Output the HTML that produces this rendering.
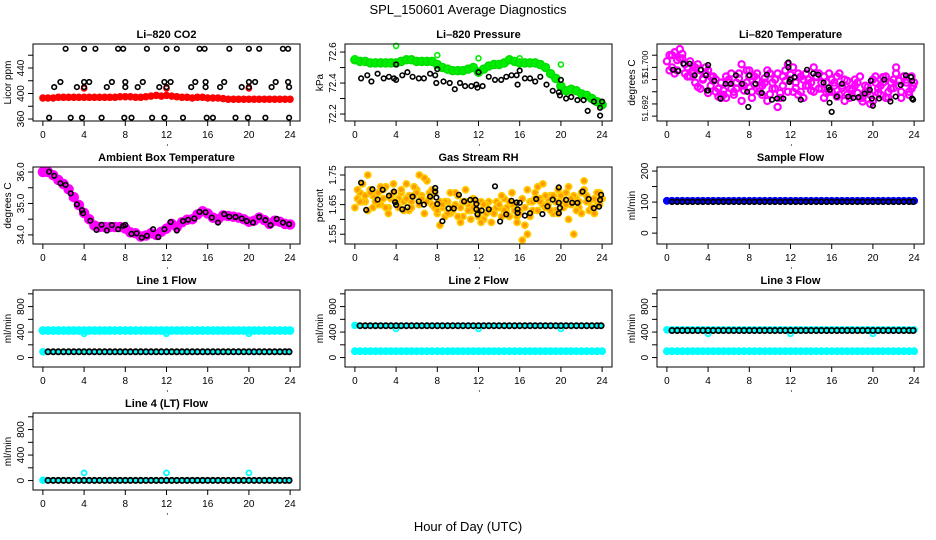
<!DOCTYPE html>
<html><head><meta charset="utf-8"><style>
html,body{margin:0;padding:0;background:#fff;}
svg{display:block;font-family:"Liberation Sans",sans-serif;}
</style></head><body>
<svg id="chart" width="936" height="540" viewBox="0 0 936 540" xmlns="http://www.w3.org/2000/svg">
<text x="468" y="14" text-anchor="middle" font-size="13">SPL_150601  Average Diagnostics</text>
<text x="468" y="531" text-anchor="middle" font-size="13">Hour of Day (UTC)</text>
</svg>
<script>
const xTicks = [0,4,8,12,16,20,24];
const halfHours = [0,0.5,1,1.5,2,2.5,3,3.5,4,4.5,5,5.5,6,6.5,7,7.5,8,8.5,9,9.5,10,10.5,11,11.5,12,12.5,13,13.5,14,14.5,15,15.5,16,16.5,17,17.5,18,18.5,19,19.5,20,20.5,21,21.5,22,22.5,23,23.5,24];
const quarterHours = [0.25,0.75,1.25,1.75,2.25,2.75,3.25,3.75,4.25,4.75,5.25,5.75,6.25,6.75,7.25,7.75,8.25,8.75,9.25,9.75,10.25,10.75,11.25,11.75,12.25,12.75,13.25,13.75,14.25,14.75,15.25,15.75,16.25,16.75,17.25,17.75,18.25,18.75,19.25,19.75,20.25,20.75,21.25,21.75,22.25,22.75,23.25,23.75];
const blackTimes = [0.5,1,1.5,2,2.5,3,3.5,4,4.5,5,5.5,6,6.5,7,7.5,8,8.5,9,9.5,10,10.5,11,11.5,12,12.5,13,13.5,14,14.5,15,15.5,16,16.5,17,17.5,18,18.5,19,19.5,20,20.5,21,21.5,22,22.5,23,23.5,23.9];
const spikeTimes = [4,12,20];

// CO2
const co2RedVals = [393,393,393,394,394,394,394,394,394,394,394,394,394,394,394,395,395,395,394,394,395,396,397,396,397,396,395,394,394,393,394,394,393,393,393,392,391,391,391,391,391,391,391,391,391,391,391,391,391];
const co2RedSpikeVals = [408,408,408];
const co2BlackTimes = [2.2,4,5.1,7.3,7.8,10.1,12,13,15.2,15.7,18.1,20,21,23.3,23.8, 1.7,4,4.5,6.7,8,9.7,11.8,12.4,14.8,15.8,17.6,20,20.6,22.6,23.8, 1.1,3.3,4,6.2,8,9.2,11.3,12,14.4,15.8,17.2,19.3,20,22.2,23.9, 0.6,2.7,3.8,5.7,7.9,8.6,10.6,11.8,13.6,15.9,16.5,18.7,19.9,21.6,23.9];
const co2BlackVals = [470,470,470,470,470,470,470,470,470,470,470,470,470,470,470, 418,418,418,418,418,418,418,418,418,418,418,418,418,418,418, 410,410,410,410,410,410,410,410,410,410,410,410,410,410,410, 362,362,362,362,362,362,362,362,362,362,362,362,362,362,362];

// Pressure
const presGreenVals = [72.55,72.54,72.54,72.53,72.53,72.53,72.53,72.53,72.53,72.54,72.55,72.55,72.54,72.54,72.54,72.54,72.52,72.50,72.49,72.48,72.48,72.48,72.49,72.50,72.47,72.49,72.51,72.52,72.52,72.53,72.55,72.54,72.53,72.53,72.53,72.53,72.52,72.50,72.46,72.43,72.38,72.35,72.36,72.35,72.33,72.32,72.30,72.28,72.26];
const presGreenSpikeTimes = [0,4,8,12,16,20];
const presGreenSpikeVals = [72.56,72.64,72.58,72.56,72.56,72.52];
const presBlackTimes = [0.6,1.2,1.6,2.2,2.8,3.3,3.8,4,4,4.6,5.1,5.6,6.2,6.7,7.3,7.8,7.9,8,8.6,9.2,9.7,10.2,10.7,11.3,11.8,11.9,12,12.4,13,13.6,14.2,14.7,15.2,15.7,15.8,16,16.5,17,17.5,18,18.6,19.2,19.8,19.9,20,20.5,21,21.6,22.2,22.6,23.2,23.8,23.8,24];
const presBlackVals = [72.43,72.45,72.41,72.46,72.43,72.44,72.43,72.52,72.42,72.45,72.47,72.44,72.43,72.43,72.46,72.45,72.40,72.49,72.41,72.40,72.36,72.40,72.38,72.38,72.39,72.37,72.47,72.38,72.44,72.42,72.42,72.44,72.45,72.45,72.39,72.48,72.43,72.43,72.41,72.44,72.39,72.35,72.34,72.32,72.42,72.30,72.31,72.29,72.29,72.22,72.28,72.24,72.19,72.28];

// Li-820 temperature
const tempMagA = [51.7010,51.7020,51.6995,51.7015,51.7000,51.6990,51.7005,51.6980,51.6995,51.6985,51.6965,51.6955,51.6975,51.6960,51.6990,51.6970,51.6995,51.6985,51.6960,51.6975,51.6990,51.6965,51.6950,51.6995,51.6980,51.6975,51.6960,51.6990,51.6975,51.6985,51.6965,51.6975,51.6960,51.6985,51.6970,51.6955,51.6965,51.6975,51.6950,51.6960,51.6945,51.6965,51.6975,51.6960,51.6980,51.6970,51.6985,51.6960,51.6975];
const tempMagB = [51.6995,51.7025,51.7015,51.6990,51.7010,51.6975,51.6995,51.7000,51.6970,51.6980,51.6950,51.6985,51.6965,51.6975,51.6945,51.6995,51.6960,51.6980,51.6955,51.6995,51.6975,51.6935,51.6985,51.6960,51.7000,51.6955,51.6980,51.6970,51.6960,51.6990,51.6950,51.6990,51.6970,51.6955,51.6980,51.6950,51.6970,51.6985,51.6960,51.6940,51.6975,51.6955,51.6985,51.6965,51.6990,51.6950,51.6980,51.6965];
const tempMagC = [51.7020,51.6990,51.7030,51.7005,51.6985,51.7000,51.6965,51.6990,51.6985,51.6960,51.6975,51.6950,51.6990,51.6965,51.7005,51.6975,51.6950,51.6990,51.6970,51.6945,51.6965,51.6990,51.6970,51.7005,51.6960,51.6990,51.6950,51.6980,51.7000,51.6965,51.6985,51.6960,51.6975,51.6990,51.6945,51.6965,51.6980,51.6950,51.6970,51.6955,51.6985,51.6970,51.6950,51.6975,51.7000,51.6960,51.6975,51.6985];
const tempMagD = [51.7000,51.7012,51.7022,51.6985,51.6995,51.6968,51.6982,51.6958,51.6978,51.6952,51.6962,51.6980,51.6955,51.6982,51.6962,51.6985,51.6972,51.6966,51.6982,51.6956,51.6980,51.6958,51.6978,51.6988,51.6966,51.6985,51.6970,51.6962,51.6984,51.6975,51.6958,51.6980,51.6952,51.6966,51.6978,51.6962,51.6958,51.6944,51.6968,51.6980,51.6958,51.6984,51.6950,51.6966,51.6978,51.6985,51.6955,51.6970];
const tempBlackTimes = [0.6,1.1,1.6,2.2,2.7,3.3,3.8,3.9,4,4,4.6,5.2,5.7,6.2,6.7,7.3,7.8,7.9,8,8.6,9.2,9.7,10.2,10.7,11.3,11.8,11.8,11.9,12,12.4,13,13.6,14.2,14.7,15.2,15.7,15.8,15.8,16,16.5,17,17.6,18.1,18.6,19.2,19.7,19.8,19.9,20,20.6,21.1,21.7,22.2,22.7,23.2,23.7,23.8,23.8,23.9];
const tempBlackVals = [51.6996,51.6994,51.7006,51.7006,51.6987,51.6996,51.6987,51.6962,51.6962,51.7004,51.6978,51.6949,51.6973,51.6973,51.6987,51.6973,51.6960,51.6935,51.6987,51.6973,51.6958,51.6988,51.6947,51.6949,51.6949,51.7008,51.7000,51.6976,51.6980,51.6984,51.6947,51.6996,51.6990,51.6988,51.6975,51.6967,51.6963,51.6942,51.6927,51.6952,51.6973,51.6952,51.6950,51.6951,51.6957,51.6963,51.6978,51.6949,51.6937,51.6949,51.6980,51.6944,51.6952,51.6971,51.6987,51.6984,51.6978,51.6949,51.6947];

// Ambient box temperature
const ambMagVals = [36.0,36.0,35.9,35.75,35.62,35.45,35.2,34.95,34.7,34.5,34.3,34.25,34.25,34.25,34.25,34.25,34.2,34.08,34.05,33.95,33.98,34.05,34.0,34.1,34.2,34.35,34.25,34.4,34.48,34.5,34.65,34.75,34.68,34.55,34.5,34.62,34.6,34.58,34.55,34.5,34.42,34.45,34.55,34.47,34.35,34.45,34.42,34.35,34.33];
const ambBlackTimes = [0.6,1.1,1.7,2.2,2.7,3.3,3.8,3.9,4.6,5.2,5.7,6.2,6.7,7.3,7.8,8,8.6,9.1,9.6,10.1,10.7,11.2,11.8,12.4,13,13.6,14.1,14.7,15.2,15.8,16.4,17,17.6,18.1,18.7,19.3,19.8,20.4,21,21.6,22.1,22.7,23.3,23.9];
const ambBlackVals = [36.01,35.88,35.64,35.59,35.32,34.97,34.79,34.69,34.45,34.16,34.32,34.14,34.31,34.18,34.29,34.32,34.03,34.05,33.91,33.97,34.18,33.93,34.18,34.41,34.14,34.44,34.48,34.52,34.73,34.72,34.55,34.39,34.66,34.58,34.57,34.52,34.44,34.39,34.57,34.47,34.31,34.51,34.39,34.34];

// Gas stream RH
const rhA = [1.64,1.69,1.66,1.70,1.68,1.65,1.71,1.67,1.66,1.69,1.72,1.66,1.70,1.68,1.73,1.65,1.62,1.64,1.66,1.63,1.68,1.61,1.65,1.67,1.63,1.60,1.66,1.62,1.64,1.67,1.61,1.65,1.63,1.58,1.66,1.69,1.67,1.64,1.68,1.63,1.66,1.69,1.65,1.67,1.62,1.68,1.64,1.66,1.67];
const rhB = [1.67,1.72,1.63,1.68,1.65,1.70,1.64,1.69,1.67,1.63,1.68,1.71,1.65,1.74,1.67,1.69,1.58,1.66,1.62,1.69,1.64,1.66,1.60,1.63,1.66,1.62,1.59,1.64,1.68,1.62,1.65,1.61,1.67,1.55,1.63,1.71,1.65,1.67,1.62,1.70,1.64,1.60,1.68,1.66,1.70,1.63,1.67,1.65];
const rhC = [1.70,1.66,1.75,1.64,1.69,1.67,1.62,1.72,1.64,1.66,1.63,1.68,1.75,1.62,1.69,1.64,1.66,1.61,1.69,1.65,1.59,1.70,1.63,1.66,1.59,1.65,1.63,1.66,1.61,1.64,1.69,1.59,1.53,1.70,1.66,1.63,1.72,1.65,1.68,1.62,1.66,1.71,1.55,1.64,1.73,1.66,1.62,1.69];
const rhD = [1.66,1.68,1.69,1.66,1.71,1.64,1.68,1.66,1.70,1.67,1.64,1.69,1.67,1.66,1.70,1.63,1.65,1.62,1.64,1.61,1.66,1.63,1.64,1.61,1.65,1.63,1.62,1.65,1.63,1.66,1.63,1.62,1.64,1.61,1.67,1.66,1.68,1.63,1.66,1.68,1.65,1.67,1.63,1.69,1.66,1.64,1.69,1.67];
const rhBlackTimes = [0.6,1.1,1.7,2.2,2.7,3.3,3.8,3.9,4,4.6,5.1,5.6,6.2,6.7,7.3,7.8,7.8,7.9,8,8.5,9.1,9.6,10.1,10.6,11.2,11.7,11.8,11.8,11.9,12.3,13,13.6,14.1,14.7,15.2,15.7,15.8,15.8,16,16.5,17,17.6,18.2,18.7,19.2,19.8,19.8,19.8,19.9,20.5,21.1,21.6,22.1,22.7,23.2,23.7,23.8,23.9];
const rhBlackVals = [1.724,1.632,1.702,1.667,1.700,1.680,1.694,1.658,1.649,1.634,1.641,1.677,1.661,1.650,1.677,1.706,1.694,1.674,1.652,1.594,1.637,1.637,1.683,1.661,1.666,1.666,1.652,1.634,1.617,1.630,1.634,1.712,1.593,1.617,1.663,1.657,1.634,1.622,1.656,1.613,1.621,1.669,1.618,1.644,1.667,1.708,1.656,1.621,1.639,1.666,1.656,1.656,1.694,1.669,1.638,1.643,1.666,1.683];

// Sample flow
const sampleBlueVals = [104,104,104,104,104,104,104,104,104,104,104,104,104,104,104,104,104,104,104,104,104,104,104,104,104,104,104,104,104,104,104,104,104,104,104,104,104,104,104,104,104,104,104,104,104,104,104,104,104];
const sampleBlackVals = [101,101,101,101,101,101,101,101,101,101,101,101,101,101,101,101,101,101,101,101,101,101,101,101,101,101,101,101,101,101,101,101,101,101,101,101,101,101,101,101,101,101,101,101,101,101,101,101];

// Line 1 flow
const line1CyanHigh = [425,425,425,425,425,425,425,425,425,425,425,425,425,425,425,425,425,425,425,425,425,425,425,425,425,425,425,425,425,425,425,425,425,425,425,425,425,425,425,425,425,425,425,425,425,425,425,425,425];
const line1CyanDips = [375,375,375];
const line1CyanLow = [90];
const line1Black = [90,90,90,90,90,90,90,90,90,90,90,90,90,90,90,90,90,90,90,90,90,90,90,90,90,90,90,90,90,90,90,90,90,90,90,90,90,90,90,90,90,90,90,90,90,90,90,90];

// Line 2 flow
const line2CyanLow = [100,100,100,100,100,100,100,100,100,100,100,100,100,100,100,100,100,100,100,100,100,100,100,100,100,100,100,100,100,100,100,100,100,100,100,100,100,100,100,100,100,100,100,100,100,100,100,100,100];
const line2CyanStart = [505];
const line2CyanDips = [450,450,450];
const line2Black = [500,500,500,500,500,500,500,500,500,500,500,500,500,500,500,500,500,500,500,500,500,500,500,500,500,500,500,500,500,500,500,500,500,500,500,500,500,500,500,500,500,500,500,500,500,500,500,500];

// Line 3 flow
const line3CyanLow = [100,100,100,100,100,100,100,100,100,100,100,100,100,100,100,100,100,100,100,100,100,100,100,100,100,100,100,100,100,100,100,100,100,100,100,100,100,100,100,100,100,100,100,100,100,100,100,100,100];
const line3CyanHigh = [435,435,435,435,435,435,435,435,435,435,435,435,435,435,435,435,435,435,435,435,435,435,435,435,435,435,435,435,435,435,435,435,435,435,435,435,435,435,435,435,435,435,435,435,435,435,435,435,435];
const line3CyanDips = [375,375,375];
const line3Black = [425,425,425,425,425,425,425,425,425,425,425,425,425,425,425,425,425,425,425,425,425,425,425,425,425,425,425,425,425,425,425,425,425,425,425,425,425,425,425,425,425,425,425,425,425,425,425,425];

// Line 4 flow
const line4CyanStart = [5];
const line4CyanSpikes = [120,120,120];
const line4Black = [2,2,2,2,2,2,2,2,2,2,2,2,2,2,2,2,2,2,2,2,2,2,2,2,2,2,2,2,2,2,2,2,2,2,2,2,2,2,2,2,2,2,2,2,2,2,2,2];

const flowTicks = [0,200,400,600,800,1000];
const flowLabels = [0,400,800];

const NS = "http://www.w3.org/2000/svg";
const svg = document.getElementById('chart');
function mk(tag, attrs, parent){
  const e = document.createElementNS(NS, tag);
  for (const k in attrs) e.setAttribute(k, attrs[k]);
  (parent||svg).appendChild(e);
  return e;
}
const COLS = [33,345,657], ROWS = [44,167,290,413], PW = 267, PH = 77;

function panel(p){
  const L = COLS[p.col], T = ROWS[p.row];
  const g = mk('g', {});
  
  
  const xs = t => L + (t + 0.96) / 25.92 * PW;
  const ys = v => T + PH - (v - p.ydom[0]) / (p.ydom[1] - p.ydom[0]) * PH;
  const tt = mk('text', {x: L + PW/2, y: T - 6, 'text-anchor':'middle', 'font-size':11, 'font-weight':'bold'}, g);
  tt.textContent = p.title;
  
  
  const sg = mk('g', {}, g);
  
  
  p.series.forEach(s => {
    const n = Math.min(s.t.length, s.v.length);
    for (let i = 0; i < n; i++){
      const y = ys(s.v[i]);
      if (y < T - 2 || y > T + PH + 2) continue;
      const c = mk('circle', {cx: xs(s.t[i]).toFixed(1), cy: y.toFixed(1), r: s.r, fill: s.fill || 'none', stroke: s.c, 'stroke-width': s.w || 1.6}, sg);
      
      
    }
  });
  const box = mk('rect', {x: L, y: T, width: PW, height: PH, fill: 'none', stroke: '#000', 'stroke-width': 1}, g);
  
  
  const xa = mk('g', {}, g);
  
  
  mk('line', {x1: xs(0), x2: xs(24), y1: T+PH, y2: T+PH, stroke:'#000'}, xa);
  xTicks.forEach(t => {
    mk('line', {x1: xs(t), x2: xs(t), y1: T+PH, y2: T+PH+5, stroke:'#000'}, xa);
    const tx = mk('text', {x: xs(t), y: T+PH+17, 'text-anchor':'middle', 'font-size':10}, xa);
    tx.textContent = t;
    
    
  });
  mk('circle', {cx: xs(12)+1, cy: T+PH+24, r: 0.6, fill:'#000'}, xa);
  const ya = mk('g', {}, g);
  
  
  const yt = p.yticks;
  mk('line', {x1: L, x2: L, y1: ys(yt[0]), y2: ys(yt[yt.length-1]), stroke:'#000'}, ya);
  yt.forEach(v => mk('line', {x1: L-5, x2: L, y1: ys(v), y2: ys(v), stroke:'#000'}, ya));
  p.ylabels.forEach((v, i) => {
    const yy = ys(v);
    const tx = mk('text', {x: 0, y: 0, 'text-anchor':'middle', 'font-size': p.yfs || 10, transform: `translate(${L-9},${yy}) rotate(-90)`}, ya);
    tx.textContent = p.ytext ? p.ytext[i] : v;
    
    
  });
  const yl = mk('text', {x:0, y:0, 'text-anchor':'middle', 'font-size':10, transform:`translate(${L-22},${T+PH/2}) rotate(-90)`}, g);
  yl.textContent = p.ylab;
  
  
}

const spikeTimes0 = [0];
panel({name:'co2-panel', col:0, row:0, title:'Li\u2013820 CO2', ylab:'Licor ppm', ydom:[356.9,477.6],
  yticks:[360,380,400,420,440,460], ylabels:[360,400,440],
  series:[
    {t: halfHours, v: co2RedVals, c:'#ff0000', fill:'#ff0000', r:3.0, w:1.5},
    {t: spikeTimes, v: co2RedSpikeVals, c:'#ff0000', r:2.5, w:1.8},
    {t: co2BlackTimes, v: co2BlackVals, c:'#000', r:2.3, w:1.6}
  ]});
panel({name:'pressure-panel', col:1, row:0, title:'Li\u2013820 Pressure', ylab:'kPa', ydom:[72.155,72.652],
  yticks:[72.2,72.3,72.4,72.5,72.6], ylabels:[72.2,72.4,72.6], ytext:['72.2','72.4','72.6'],
  series:[
    {t: halfHours, v: presGreenVals, c:'#00dd00', fill:'#00ee00', r:4.0, w:1.5},
    {t: presGreenSpikeTimes, v: presGreenSpikeVals, c:'#00ee00', r:2.5, w:1.6},
    {t: presBlackTimes, v: presBlackVals, c:'#000', r:2.3, w:1.6}
  ]});
panel({name:'li820-temperature-panel', col:2, row:0, title:'Li\u2013820 Temperature', ylab:'degrees C', ydom:[51.6912,51.70384], yfs:8.5,
  yticks:[51.692,51.694,51.696,51.698,51.700,51.702], ylabels:[51.69328,51.69824,51.70064], ytext:['51.692','51.','51.700'],
  series:[
    {t: halfHours, v: tempMagA, c:'#ff00ff', r:3.1, w:2.2},
    {t: quarterHours, v: tempMagB, c:'#ff00ff', r:3.1, w:2.2},
    {t: quarterHours, v: tempMagC, c:'#ff00ff', r:3.1, w:2.2},
    {t: blackTimes, v: tempMagD, c:'#ff00ff', r:3.1, w:2.2},
    {t: tempBlackTimes, v: tempBlackVals, c:'#000', r:2.3, w:1.6}
  ]});
panel({name:'ambient-temperature-panel', col:0, row:1, title:'Ambient Box Temperature', ylab:'degrees C', ydom:[33.71,36.16],
  yticks:[34.0,34.5,35.0,35.5,36.0], ylabels:[34.0,35.0,36.0], ytext:['34.0','35.0','36.0'],
  series:[
    {t: halfHours, v: ambMagVals, c:'#ff00ff', fill:'#ff00ff', r:4.5, w:1.5},
    {t: ambBlackTimes, v: ambBlackVals, c:'#000', r:2.3, w:1.6}
  ]});
panel({name:'gas-rh-panel', col:1, row:1, title:'Gas Stream RH', ylab:'percent', ydom:[1.517,1.777],
  yticks:[1.55,1.60,1.65,1.70,1.75], ylabels:[1.55,1.65,1.75], ytext:['1.55','1.65','1.75'],
  series:[
    {t: halfHours, v: rhA, c:'#ffcc00', fill:'#ff9900', r:3.1, w:1.6},
    {t: quarterHours, v: rhB, c:'#ffcc00', fill:'#ff9900', r:3.1, w:1.6},
    {t: quarterHours, v: rhC, c:'#ffcc00', fill:'#ff9900', r:3.1, w:1.6},
    {t: blackTimes, v: rhD, c:'#ffcc00', fill:'#ff9900', r:3.1, w:1.6},
    {t: rhBlackTimes, v: rhBlackVals, c:'#000', r:2.3, w:1.6}
  ]});
panel({name:'sample-flow-panel', col:2, row:1, title:'Sample Flow', ylab:'ml/min', ydom:[-35,213],
  yticks:[0,50,100,150,200], ylabels:[0,100,200],
  series:[
    {t: halfHours, v: sampleBlueVals, c:'#0000ff', fill:'#0000ff', r:3.2, w:1.5},
    {t: blackTimes, v: sampleBlackVals, c:'#000', r:2.4, w:1.6}
  ]});
const flowDom = [-148, 1060];
panel({name:'line1-flow-panel', col:0, row:2, title:'Line 1 Flow', ylab:'ml/min', ydom:flowDom,
  yticks:flowTicks, ylabels:flowLabels,
  series:[
    {t: halfHours, v: line1CyanHigh, c:'#00ffff', fill:'#00ffff', r:3.6, w:1.5},
    {t: spikeTimes, v: line1CyanDips, c:'#00ffff', r:2.5, w:1.8},
    {t: spikeTimes0, v: line1CyanLow, c:'#00ffff', fill:'#00ffff', r:3, w:1.5},
    {t: blackTimes, v: line1Black, c:'#000', fill:'#00ffff', r:2.6, w:1.8}
  ]});
panel({name:'line2-flow-panel', col:1, row:2, title:'Line 2 Flow', ylab:'ml/min', ydom:flowDom,
  yticks:flowTicks, ylabels:flowLabels,
  series:[
    {t: halfHours, v: line2CyanLow, c:'#00ffff', fill:'#00ffff', r:3.2, w:1.5},
    {t: spikeTimes0, v: line2CyanStart, c:'#00ffff', fill:'#00ffff', r:3, w:1.5},
    {t: spikeTimes, v: line2CyanDips, c:'#00ffff', r:2.5, w:1.8},
    {t: blackTimes, v: line2Black, c:'#000', fill:'#00ffff', r:2.6, w:1.8}
  ]});
panel({name:'line3-flow-panel', col:2, row:2, title:'Line 3 Flow', ylab:'ml/min', ydom:flowDom,
  yticks:flowTicks, ylabels:flowLabels,
  series:[
    {t: halfHours, v: line3CyanLow, c:'#00ffff', fill:'#00ffff', r:3.2, w:1.5},
    {t: halfHours, v: line3CyanHigh, c:'#00ffff', fill:'#00ffff', r:3, w:1.5},
    {t: spikeTimes, v: line3CyanDips, c:'#00ffff', r:2.5, w:1.8},
    {t: blackTimes, v: line3Black, c:'#000', fill:'#00ffff', r:2.6, w:1.8}
  ]});
panel({name:'line4-flow-panel', col:0, row:3, title:'Line 4 (LT) Flow', ylab:'ml/min', ydom:flowDom,
  yticks:flowTicks, ylabels:flowLabels,
  series:[
    {t: spikeTimes0, v: line4CyanStart, c:'#00ffff', fill:'#00ffff', r:3, w:1.5},
    {t: spikeTimes, v: line4CyanSpikes, c:'#00ffff', r:2.5, w:1.8},
    {t: blackTimes, v: line4Black, c:'#000', fill:'#00ffff', r:2.6, w:1.8}
  ]});
</script>
</body></html>
